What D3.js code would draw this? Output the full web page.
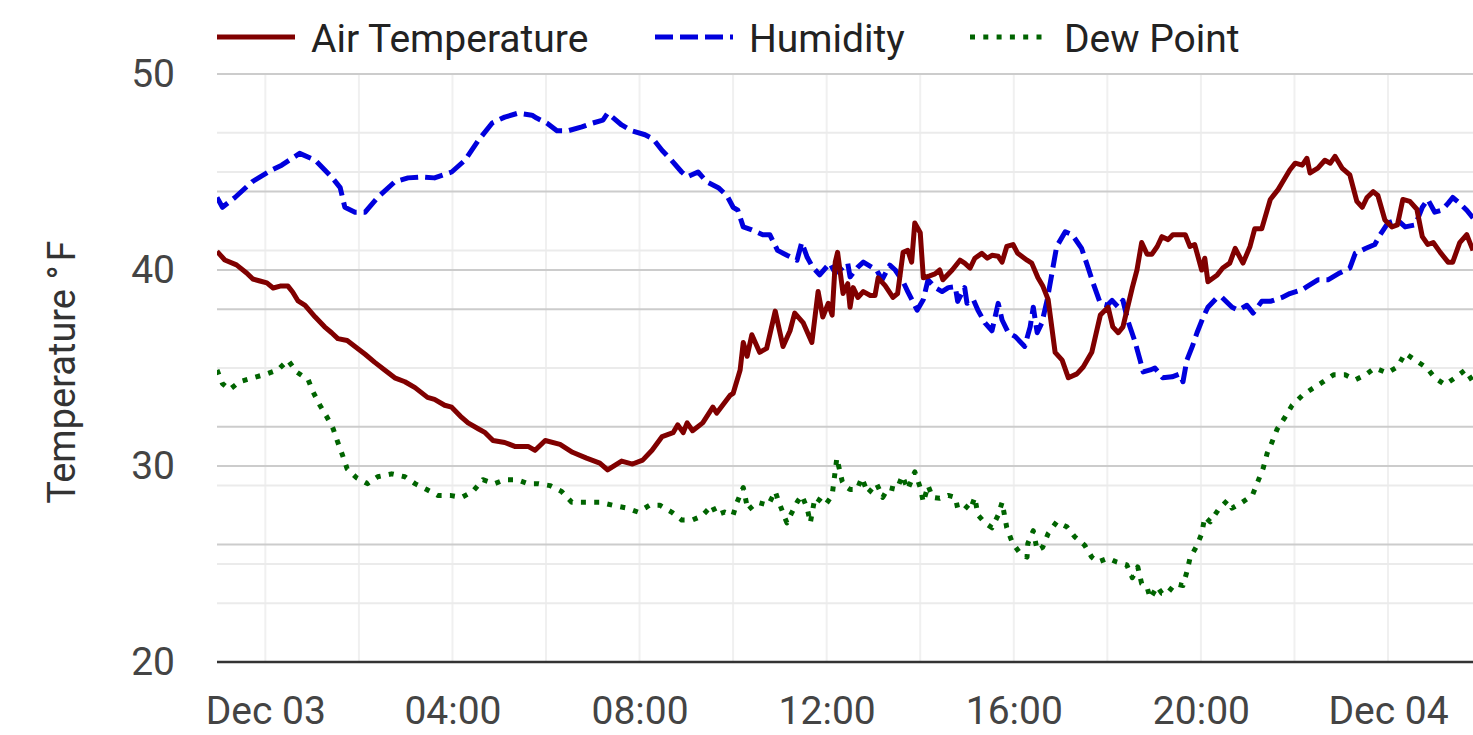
<!DOCTYPE html>
<html><head><meta charset="utf-8">
<script src="https://cdn.jsdelivr.net/npm/d3@7"></script>
<style>body{margin:0;background:#fff}svg{display:block;font-family:Roboto,"Noto Sans",sans-serif}</style>
</head><body>
<svg id="chart" width="1473" height="735"></svg>
<script>
// ---- DATA (time = minutes from Dec 03 00:00) ----
const seriesNames = ["Air Temperature", "Humidity", "Dew Point"];
const xTickHours = [0, 4, 8, 12, 16, 20, 24];
const xGridHours = [0, 2, 4, 6, 8, 10, 12, 14, 16, 18, 20, 22, 24];
const yTicks = [20, 30, 40, 50];
const yMinorTicks = [25, 35, 45];
const secMajorGrid = [26, 32, 38, 44];
const secMinorGrid = [23, 29, 35, 41, 47];

const airTemp = [[-62,40.95],[-52,40.51],[-37,40.26],[-24,39.85],[-16,39.54],[-7,39.44],[2,39.34],[10,39.08],[19,39.18],[29,39.18],[35,38.88],[42,38.42],[51,38.2],[64,37.6],[76,37.1],[85,36.8],[93,36.5],[105,36.4],[115,36.1],[128,35.7],[140,35.3],[153,34.9],[166,34.5],[179,34.3],[192,34.0],[208,33.5],[217,33.4],[230,33.1],[239,33.0],[250,32.55],[260,32.2],[273,31.9],[282,31.7],[292,31.3],[307,31.2],[320,31.0],[337,31.0],[346,30.8],[359,31.3],[378,31.1],[394,30.7],[412,30.4],[429,30.15],[439,29.8],[457,30.25],[471,30.1],[484,30.3],[496,30.8],[509,31.5],[523,31.7],[529,32.1],[536,31.7],[541,32.2],[548,31.8],[561,32.2],[574,33.0],[579,32.7],[596,33.6],[600,33.7],[609,34.9],[613,36.3],[618,35.6],[624,36.7],[634,35.8],[643,36.0],[654,37.9],[664,36.1],[673,36.9],[679,37.8],[690,37.3],[701,36.3],[709,38.9],[715,37.6],[722,38.3],[727,37.7],[731,40.4],[734,40.9],[741,38.8],[747,39.3],[750,38.1],[754,39.1],[760,38.6],[767,38.9],[776,38.7],[782,38.7],[786,39.6],[795,39.2],[805,38.6],[811,38.8],[818,40.9],[824,41.0],[829,40.4],[833,42.4],[840,41.9],[844,39.6],[852,39.7],[859,39.8],[865,40.0],[869,39.5],[881,40.0],[891,40.5],[897,40.35],[904,40.1],[910,40.6],[919,40.85],[926,40.6],[932,40.75],[940,40.7],[945,40.4],[951,41.2],[959,41.3],[965,40.85],[977,40.5],[983,40.35],[991,39.6],[997,39.2],[1004,38.5],[1013,35.8],[1022,35.4],[1030,34.5],[1041,34.7],[1049,35.05],[1060,35.8],[1071,37.7],[1081,38.1],[1087,37.1],[1094,36.8],[1100,37.1],[1112,39.1],[1118,40.0],[1124,41.4],[1131,40.8],[1137,40.8],[1144,41.2],[1150,41.7],[1158,41.55],[1164,41.8],[1180,41.8],[1186,41.2],[1192,41.3],[1201,40.0],[1205,40.6],[1209,39.4],[1221,39.75],[1228,40.1],[1237,40.35],[1244,41.1],[1254,40.35],[1263,41.2],[1269,42.1],[1278,42.1],[1289,43.6],[1299,44.1],[1305,44.5],[1314,45.1],[1321,45.45],[1330,45.35],[1336,45.7],[1340,44.95],[1350,45.2],[1359,45.6],[1366,45.45],[1372,45.8],[1381,45.2],[1391,44.85],[1400,43.5],[1407,43.2],[1413,43.7],[1421,44.0],[1427,43.8],[1436,42.55],[1445,42.2],[1452,42.3],[1459,43.6],[1468,43.5],[1477,43.1],[1484,41.7],[1491,41.3],[1498,41.4],[1507,40.9],[1517,40.4],[1523,40.4],[1532,41.4],[1541,41.8],[1549,41.0]];

const humidity = [[-62,43.7],[-55,43.2],[-39,43.7],[-17,44.5],[8,45.1],[21,45.35],[44,45.95],[64,45.6],[85,44.75],[96,44.2],[102,43.2],[115,42.95],[128,42.95],[144,43.7],[166,44.5],[183,44.7],[201,44.75],[217,44.7],[239,45.0],[256,45.6],[273,46.6],[291,47.5],[307,47.8],[324,48.0],[342,47.9],[348,47.75],[361,47.5],[374,47.1],[388,47.1],[406,47.3],[420,47.5],[433,47.65],[439,48.0],[457,47.4],[470,47.1],[487,46.9],[497,46.7],[509,46.1],[521,45.6],[534,45.0],[541,44.75],[555,45.0],[566,44.5],[581,44.2],[592,43.8],[600,43.2],[606,43.05],[613,42.2],[624,42.05],[638,41.8],[647,41.8],[657,41.0],[669,40.75],[682,40.5],[688,41.4],[695,40.65],[702,40.15],[711,39.75],[724,40.35],[731,39.85],[740,40.1],[747,40.35],[750,39.65],[760,40.15],[767,40.4],[784,40.0],[791,39.5],[801,40.25],[808,40.0],[818,39.4],[824,38.9],[836,37.95],[844,38.5],[850,39.5],[859,39.1],[868,38.9],[876,39.1],[885,39.15],[888,38.4],[897,39.1],[900,38.3],[908,38.5],[914,37.95],[923,37.3],[932,36.9],[940,38.3],[945,37.45],[953,36.8],[962,36.6],[974,36.1],[981,37.1],[985,38.1],[990,36.8],[996,37.3],[1003,38.5],[1009,39.85],[1015,41.2],[1026,41.95],[1035,41.8],[1047,41.1],[1055,40.15],[1062,39.3],[1071,38.3],[1080,38.2],[1086,38.45],[1094,38.1],[1100,38.45],[1106,37.45],[1115,36.4],[1122,35.4],[1126,34.8],[1135,34.9],[1141,35.0],[1151,34.5],[1163,34.55],[1173,34.7],[1177,34.3],[1182,35.4],[1189,36.1],[1195,36.8],[1203,37.6],[1209,38.1],[1221,38.6],[1227,38.6],[1240,38.1],[1248,37.95],[1259,38.2],[1267,37.8],[1278,38.4],[1289,38.4],[1304,38.6],[1314,38.8],[1330,39.0],[1336,39.15],[1350,39.5],[1363,39.5],[1378,39.85],[1391,40.1],[1398,40.85],[1411,41.1],[1423,41.3],[1430,41.8],[1440,42.4],[1452,42.55],[1462,42.2],[1475,42.3],[1484,43.2],[1491,43.6],[1500,42.95],[1509,43.05],[1517,43.4],[1523,43.7],[1532,43.4],[1541,43.05],[1549,42.65]];

const dewPoint = [[-62,34.9],[-55,34.2],[-46,33.9],[-33,34.3],[-16,34.5],[2,34.7],[16,34.9],[29,35.4],[40,34.8],[55,34.4],[61,33.8],[70,33.1],[79,32.5],[87,31.9],[93,31.2],[99,30.55],[105,29.85],[117,29.4],[131,29.1],[144,29.45],[162,29.6],[179,29.45],[192,29.1],[207,28.8],[221,28.5],[237,28.5],[252,28.4],[266,28.7],[279,29.3],[294,29.1],[307,29.3],[323,29.3],[337,29.1],[350,29.1],[365,29.0],[380,28.7],[393,28.15],[410,28.15],[429,28.15],[445,28.0],[464,27.85],[478,27.65],[493,28.0],[506,28.0],[521,27.65],[534,27.25],[548,27.25],[560,27.45],[573,28.0],[579,27.5],[589,27.65],[600,27.5],[605,28.15],[613,28.9],[619,27.75],[631,28.15],[645,28.0],[654,28.7],[657,28.35],[664,27.6],[669,27.1],[675,27.6],[682,28.15],[688,28.5],[695,27.85],[699,27.1],[705,28.4],[711,28.25],[718,28.0],[727,28.5],[733,30.4],[740,29.2],[743,29.0],[750,28.8],[759,28.8],[765,29.4],[773,28.6],[784,29.1],[792,28.4],[799,28.9],[810,28.8],[817,29.5],[824,28.8],[833,29.7],[840,28.9],[844,28.15],[850,29.0],[856,28.4],[865,28.35],[876,28.5],[885,28.4],[888,27.85],[897,28.0],[904,27.75],[910,28.4],[914,27.5],[923,27.1],[932,26.85],[940,27.5],[945,28.15],[951,26.85],[958,26.1],[968,25.55],[977,25.35],[978,26.05],[985,26.7],[990,25.7],[997,25.85],[1004,26.55],[1015,27.15],[1028,26.9],[1038,26.4],[1051,25.95],[1060,25.35],[1068,25.1],[1081,25.3],[1092,25.1],[1105,24.95],[1112,24.3],[1119,24.85],[1124,24.0],[1131,23.8],[1135,23.25],[1144,23.85],[1150,23.5],[1157,23.5],[1167,24.0],[1177,23.9],[1182,24.6],[1186,25.3],[1195,25.95],[1201,26.55],[1205,27.4],[1212,27.15],[1222,27.75],[1234,28.25],[1240,27.85],[1253,28.15],[1266,28.5],[1273,29.2],[1280,29.9],[1285,30.65],[1291,31.2],[1298,31.9],[1308,32.5],[1317,33.1],[1330,33.6],[1343,33.95],[1357,34.3],[1370,34.65],[1385,34.65],[1398,34.4],[1411,34.65],[1423,35.0],[1439,34.75],[1452,35.05],[1462,35.75],[1475,35.4],[1490,35.0],[1500,34.5],[1513,34.15],[1526,34.5],[1539,34.9],[1549,34.3]];

// ---- CHART ----
const W = 1473, H = 735;
const margin = {top: 74, right: 0, bottom: 73, left: 217};
const t0 = new Date(2023, 11, 3, 0, 0, 0);
const toDate = m => new Date(t0.getTime() + m * 60000);

const series = [
  {name: seriesNames[0], data: airTemp, color: "#800000", dash: null},
  {name: seriesNames[1], data: humidity, color: "#0000dd", dash: "18,7"},
  {name: seriesNames[2], data: dewPoint, color: "#006400", dash: "5,8.3"}
];

const svg = d3.select("#chart");
const allMin = d3.min(series, s => d3.min(s.data, d => d[0]));
const allMax = d3.max(series, s => d3.max(s.data, d => d[0]));
const x = d3.scaleTime().domain([toDate(allMin), toDate(allMax)]).range([margin.left, W - margin.right]);
const y = d3.scaleLinear().domain([20, 50]).range([H - margin.bottom, margin.top]);

const g = svg.append("g");
g.selectAll(".vg").data(xGridHours).join("line")
  .attr("x1", h => x(toDate(h * 60))).attr("x2", h => x(toDate(h * 60)))
  .attr("y1", y(50)).attr("y2", y(20))
  .attr("stroke", "#f0f0f0").attr("stroke-width", 2);
g.selectAll(".hl").data(yMinorTicks.concat(secMinorGrid)).join("line")
  .attr("x1", margin.left).attr("x2", W - margin.right)
  .attr("y1", d => y(d)).attr("y2", d => y(d))
  .attr("stroke", "#ebebeb").attr("stroke-width", 2);
g.selectAll(".hm").data(yTicks.filter(d => d > 20).concat(secMajorGrid)).join("line")
  .attr("x1", margin.left).attr("x2", W - margin.right)
  .attr("y1", d => y(d)).attr("y2", d => y(d))
  .attr("stroke", "#cccccc").attr("stroke-width", 2);

const fmt = d => (d.getHours() === 0 ? d3.timeFormat("%b %d")(d) : d3.timeFormat("%H:%M")(d));
const xAxis = svg.append("g").attr("transform", `translate(0,${y(20)})`)
  .call(d3.axisBottom(x).tickValues(xTickHours.map(h => toDate(h * 60))).tickFormat(fmt).tickSize(0).tickPadding(34));
xAxis.select(".domain").remove();
xAxis.selectAll("text").attr("font-size", 39).attr("fill", "#444").attr("font-family", "Roboto");

const yAxis = svg.append("g").attr("transform", `translate(${margin.left},0)`)
  .call(d3.axisLeft(y).tickValues(yTicks).tickFormat(d3.format("d")).tickSize(0).tickPadding(42));
yAxis.select(".domain").remove();
yAxis.selectAll("text").attr("font-size", 39).attr("fill", "#444").attr("font-family", "Roboto");

svg.append("line").attr("x1", margin.left).attr("x2", W - margin.right)
  .attr("y1", y(20)).attr("y2", y(20)).attr("stroke", "#333").attr("stroke-width", 2.5);

const yt = svg.append("text").attr("transform", `translate(75,372) rotate(-90)`)
  .attr("text-anchor", "middle").attr("font-size", 38).attr("fill", "#333");
yt.append("tspan").text("Temperature °");
yt.append("tspan").attr("dx", 4).text("F");

const line = d3.line().x(d => x(toDate(d[0]))).y(d => y(d[1]));
const plot = svg.append("g");
plot.append("defs").append("clipPath").attr("id", "clip").append("rect")
  .attr("x", margin.left).attr("y", 0).attr("width", W - margin.left).attr("height", y(20));
series.slice().reverse().forEach(s => {
  plot.append("path").datum(s.data).attr("d", line)
    .attr("fill", "none").attr("stroke", s.color).attr("stroke-width", 5)
    .attr("stroke-linejoin", "round")
    .attr("stroke-dasharray", s.dash).attr("clip-path", "url(#clip)");
});

const legendX = [217, 655, 970];
const leg = svg.append("g");
series.forEach((s, i) => {
  const lg = leg.append("g").attr("transform", `translate(${legendX[i]},37)`);
  lg.append("line").attr("x1", 0).attr("x2", 78).attr("y1", 0).attr("y2", 0)
    .attr("stroke", s.color).attr("stroke-width", 5).attr("stroke-dasharray", s.dash);
  lg.append("text").attr("x", 94).attr("y", 15)
    .attr("font-size", 39).attr("fill", "#222").text(s.name);
});
</script>
</body></html>
